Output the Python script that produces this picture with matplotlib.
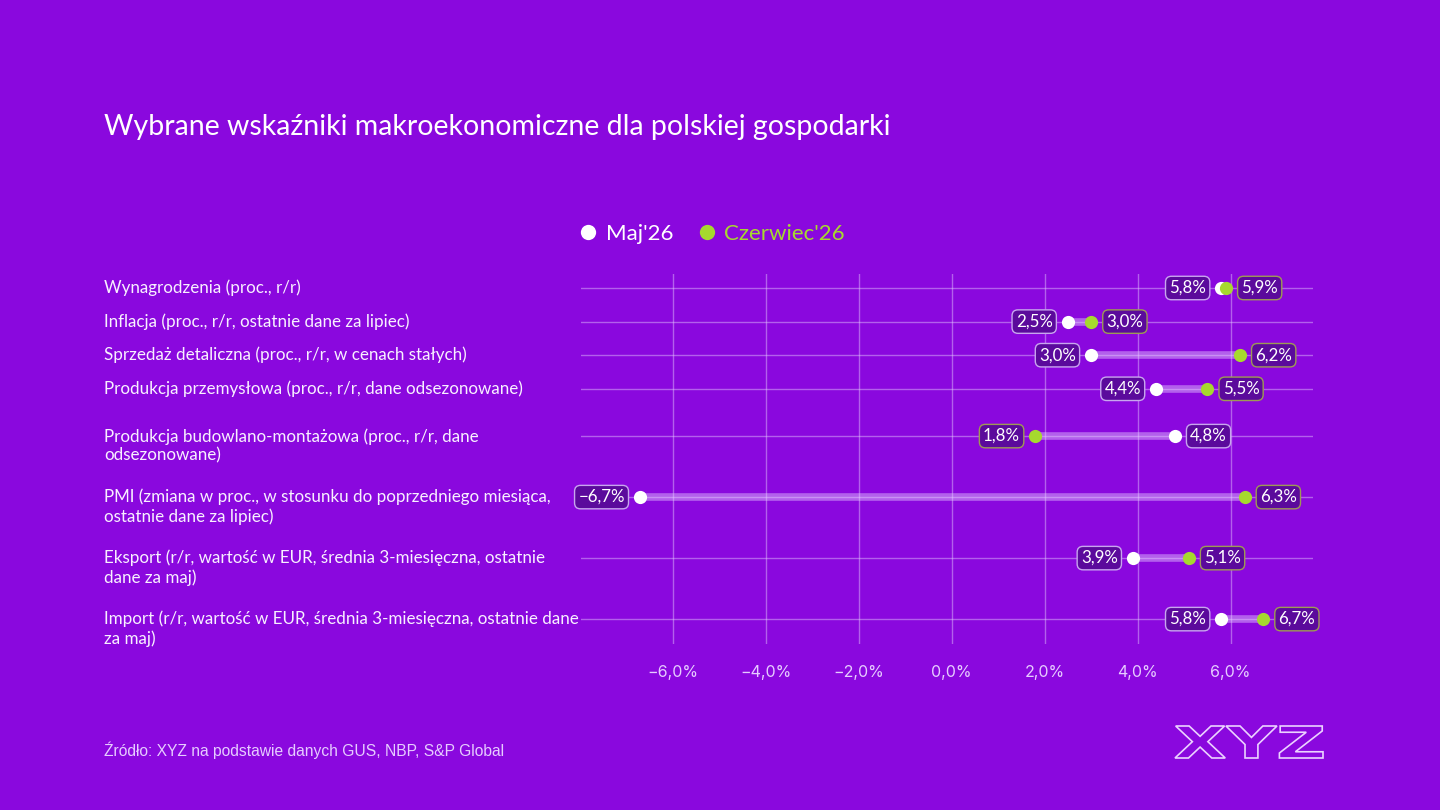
import matplotlib.pyplot as plt
from matplotlib.lines import Line2D
from matplotlib.textpath import TextPath
from matplotlib.patches import PathPatch
from matplotlib.font_manager import FontProperties
from matplotlib.transforms import Affine2D, blended_transform_factory

# Data
categories = [
    'Wynagrodzenia (proc., r/r)',
    'Inflacja (proc., r/r, ostatnie dane za lipiec)',
    'Sprzedaż detaliczna (proc., r/r, w cenach stałych)',
    'Produkcja przemysłowa (proc., r/r, dane odsezonowane)',
    'Produkcja budowlano-montażowa (proc., r/r, dane\nodsezonowane)',
    'PMI (zmiana w proc., w stosunku do poprzedniego miesiąca,\nostatnie dane za lipiec)',
    'Eksport (r/r, wartość w EUR, średnia 3-miesięczna, ostatnie\ndane za maj)',
    'Import (r/r, wartość w EUR, średnia 3-miesięczna, ostatnie dane\nza maj)',
]
maj = [5.8, 2.5, 3.0, 4.4, 4.8, -6.7, 3.9, 5.8]
czerwiec = [5.9, 3.0, 6.2, 5.5, 1.8, 6.3, 5.1, 6.7]
series_names = ["Maj'26", "Czerwiec'26"]
xticks = [-6, -4, -2, 0, 2, 4, 6]

BG = '#8A08DE'
WHITE = '#FFFFFF'
GREEN = '#A6D92E'
LAV = '#E6CCFF'
BOX = '#5B0A9C'

plt.rcParams['font.family'] = ['Lato', 'DejaVu Sans']

W, H = 1440, 810
fig = plt.figure(figsize=(14.4, 8.1), dpi=100, facecolor=BG)
ax = fig.add_axes([581 / W, 166 / H, (1313 - 581) / W, (644 - 274) / H])
ax.set_facecolor(BG)

# row positions depend on how many lines the label has
row_h = {1: 33.6, 2: 61.0}
ys = []
pos = 14.0
prev = None
for c in categories:
    n = c.count('\n') + 1
    if prev is not None:
        pos += row_h[prev] / 2 + row_h[n] / 2
    ys.append(pos)
    prev = n

ax.set_xlim(-7.97, 7.77)
ax.set_ylim(370, 0)

for x in xticks:
    ax.axvline(x, color=LAV, lw=1, alpha=0.45, zorder=0)
for y in ys:
    ax.axhline(y, color=LAV, lw=1, alpha=0.45, zorder=0)


def fmt(v):
    return f"{v:.1f}".replace('.', ',').replace('-', '\u2212') + '%'


for y, a, b in zip(ys, maj, czerwiec):
    ax.plot([a, b], [y, y], color='#E6CCFF', alpha=0.45, lw=5.5, solid_capstyle='butt', zorder=1)
    ax.plot(a, y, 'o', color=WHITE, ms=9.5, mew=0, zorder=3)
    ax.plot(b, y, 'o', color=GREEN, ms=9.5, mew=0, zorder=3)
    for v, edge, other in [(a, '#C8A6EE', b), (b, '#9E9A55', a)]:
        left = v < other or (v == other and edge == '#C8A6EE')
        ax.annotate(fmt(v), (v, y), xytext=(-11 if left else 11, 0), textcoords='offset points',
                    ha='right' if left else 'left', va='center', fontsize=12.2, color=WHITE,
                    bbox=dict(boxstyle='round,pad=0.22,rounding_size=0.35', fc=BOX, ec=edge, lw=1),
                    zorder=4)

ax.set_yticks([])
ax.set_xticks(xticks)
ax.set_xticklabels([fmt(x) for x in xticks], family=['Inter', 'DejaVu Sans'], fontsize=11.5, color=LAV)
ax.tick_params(axis='x', length=0, pad=15)
for s in ax.spines.values():
    s.set_visible(False)

# category labels
label_tr = blended_transform_factory(fig.transFigure, ax.transData)
for c, y in zip(categories, ys):
    n = c.count('\n') + 1
    ax.text(104 / W, y + (n - 1) * 9.5, c, transform=label_tr,
            ha='left', va='center', fontsize=12.25, color='#F8F0FF', linespacing=1.2)

fig.text(104 / W, 1 - 127 / H, 'Wybrane wskaźniki makroekonomiczne dla polskiej gospodarki',
         ha='left', va='center', fontsize=20.5, color=WHITE)
fig.text(104 / W, 1 - 750 / H, 'Źródło: XYZ na podstawie danych GUS, NBP, S&P Global',
         ha='left', va='center', fontsize=11.25, color=LAV, family=['Liberation Sans', 'DejaVu Sans'])

handles = [Line2D([], [], ls='none', marker='o', ms=11, mew=0, color=WHITE),
           Line2D([], [], ls='none', marker='o', ms=11, mew=0, color=GREEN)]
leg = fig.legend(handles, series_names, loc='center', bbox_to_anchor=(711 / W, 1 - 234 / H), ncol=2,
                 frameon=False, fontsize=16, handletextpad=0.3, columnspacing=1.0, handlelength=1.0)
for t, col in zip(leg.get_texts(), [WHITE, GREEN]):
    t.set_color(col)

# outlined logo
tp = TextPath((0, 0), 'XYZ', size=1, prop=FontProperties(family='DejaVu Sans', weight='bold'))
ext = tp.get_extents()
bx0, by0, bw, bh = 1175, 810 - 758, 148, 32
tr = (Affine2D().translate(-ext.x0, -ext.y0).scale(bw / ext.width, bh / ext.height)
      .translate(bx0, by0).scale(1 / W, 1 / H) + fig.transFigure)
fig.patches.append(PathPatch(tp, fc='none', ec='#EBD2FF', lw=1.2, transform=tr))

fig.savefig('out.png', dpi=100, facecolor=BG)
